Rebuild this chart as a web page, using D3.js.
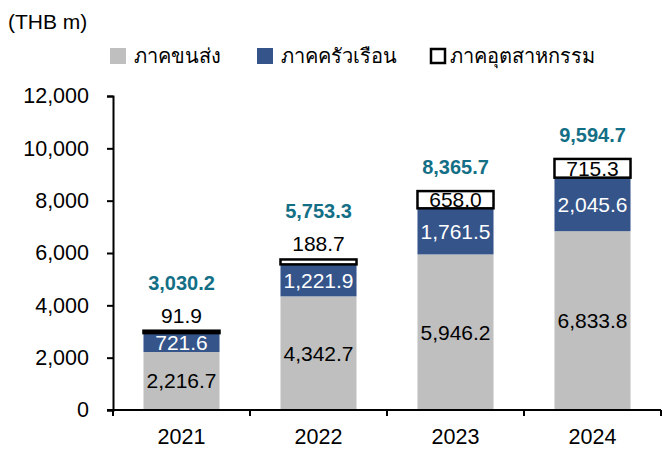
<!DOCTYPE html>
<html>
<head>
<meta charset="utf-8">
<script src="https://cdn.jsdelivr.net/npm/d3@7"></script>
<style>
  body { margin: 0; background: #ffffff; }
  text { font-family: 'Liberation Sans', Arial, 'Noto Sans', sans-serif; }
</style>
</head>
<body>
<div id="chart"></div>
<script>
// Data.
const years = ['2021', '2022', '2023', '2024'];
const transport = [2216.7, 4342.7, 5946.2, 6833.8];
const household = [721.6, 1221.9, 1761.5, 2045.6];
const industry = [91.9, 188.7, 658.0, 715.3];
const totals = [3030.2, 5753.3, 8365.7, 9594.7];
const seriesNames = ['ภาคขนส่ง', 'ภาคครัวเรือน', 'ภาคอุตสาหกรรม'];
const yTicks = [0, 2000, 4000, 6000, 8000, 10000, 12000];

const width = 662;
const height = 449;
const margin = { top: 96, right: 1, bottom: 39, left: 113 };

const svg = d3.select('#chart')
  .append('svg')
  .attr('width', width)
  .attr('height', height);

const x = d3.scaleBand()
  .domain(years)
  .range([margin.left, width - margin.right])
  .paddingInner(0.445)
  .paddingOuter(0.2225);

const y = d3.scaleLinear()
  .domain([0, 12000])
  .range([height - margin.bottom, margin.top]);

const fmt = d3.format(',.1f');

// Stack rows.
const rows = years.map((yr, i) => ({
  year: yr,
  transport: transport[i],
  household: household[i],
  industry: industry[i],
  total: totals[i],
}));

const keys = ['transport', 'household', 'industry'];
const layers = d3.stack().keys(keys)(rows);
const fills = { transport: '#bfbfbf', household: '#34548a', industry: '#ffffff' };

const bars = svg.append('g');
layers.forEach((layer) => {
  bars.selectAll(null)
    .data(layer)
    .join('rect')
    .attr('x', (d) => x(d.data.year))
    .attr('width', x.bandwidth())
    .attr('y', (d) => y(d[1]))
    .attr('height', (d) => y(d[0]) - y(d[1]))
    .attr('fill', fills[layer.key])
    .attr('stroke', layer.key === 'industry' ? '#000000' : 'none')
    .attr('stroke-width', 2.5);
});

// Segment labels.
const labels = svg.append('g').attr('font-size', 21).attr('text-anchor', 'middle');
layers.forEach((layer) => {
  labels.selectAll(null)
    .data(layer)
    .join('text')
    .attr('x', (d) => x(d.data.year) + x.bandwidth() / 2)
    .attr('y', (d) => {
      const h = y(d[0]) - y(d[1]);
      if (layer.key === 'industry' && h < 10) return y(d[1]) - 8;
      return (y(d[0]) + y(d[1])) / 2 + 7.5;
    })
    .attr('fill', layer.key === 'household' ? '#ffffff' : '#000000')
    .text((d) => fmt(d[1] - d[0]));
});

// Totals.
svg.append('g')
  .selectAll('text')
  .data(layers[2])
  .join('text')
  .attr('x', (d) => x(d.data.year) + x.bandwidth() / 2)
  .attr('y', (d) => {
    const h = y(d[0]) - y(d[1]);
    return h < 10 ? y(d[1]) - 41 : y(d[1]) - 17;
  })
  .attr('text-anchor', 'middle')
  .attr('font-size', 20)
  .attr('font-weight', 'bold')
  .attr('fill', '#136f86')
  .text((d) => fmt(d.data.total));

// Axes.
const yAxis = svg.append('g')
  .attr('transform', `translate(${margin.left},0)`)
  .call(d3.axisLeft(y).tickValues(yTicks).tickFormat(d3.format(',')).tickSize(6).tickPadding(18));
yAxis.select('.domain').attr('stroke', '#000').attr('stroke-width', 2);
yAxis.selectAll('.tick line').attr('stroke-width', 2);
yAxis.selectAll('text').attr('font-size', 21.5).attr('fill', '#000');

const xAxis = svg.append('g')
  .attr('transform', `translate(0,${height - margin.bottom})`);
xAxis.append('line')
  .attr('x1', margin.left - 6).attr('x2', width - margin.right)
  .attr('stroke', '#000').attr('stroke-width', 2);
const step = x.step();
const bounds = d3.range(years.length + 1).map((i) => margin.left + i * step);
xAxis.selectAll('.sep')
  .data(bounds)
  .join('line')
  .attr('x1', (d) => d).attr('x2', (d) => d)
  .attr('y1', 0).attr('y2', 6)
  .attr('stroke', '#000').attr('stroke-width', 2);
xAxis.selectAll('.lab')
  .data(years)
  .join('text')
  .attr('x', (d) => x(d) + x.bandwidth() / 2)
  .attr('y', 34)
  .attr('text-anchor', 'middle')
  .attr('font-size', 21.5)
  .text((d) => d);

// Unit label.
svg.append('text')
  .attr('x', 8).attr('y', 29)
  .attr('font-size', 21)
  .text('(THB m)');

// Legend.
const legendX = [110, 257, 430];
const legend = svg.append('g');
seriesNames.forEach((name, i) => {
  const key = keys[i];
  const outlined = key === 'industry';
  legend.append('rect')
    .attr('x', legendX[i] + (outlined ? 1 : 0))
    .attr('y', 48 + (outlined ? 1 : 0))
    .attr('width', outlined ? 14 : 16)
    .attr('height', outlined ? 14 : 16)
    .attr('fill', fills[key])
    .attr('stroke', outlined ? '#000' : 'none')
    .attr('stroke-width', 2.5);
  legend.append('text')
    .attr('x', legendX[i] + (outlined ? 20 : 24))
    .attr('y', 63)
    .attr('font-size', 20)
    .text(name);
});
</script>
</body>
</html>
